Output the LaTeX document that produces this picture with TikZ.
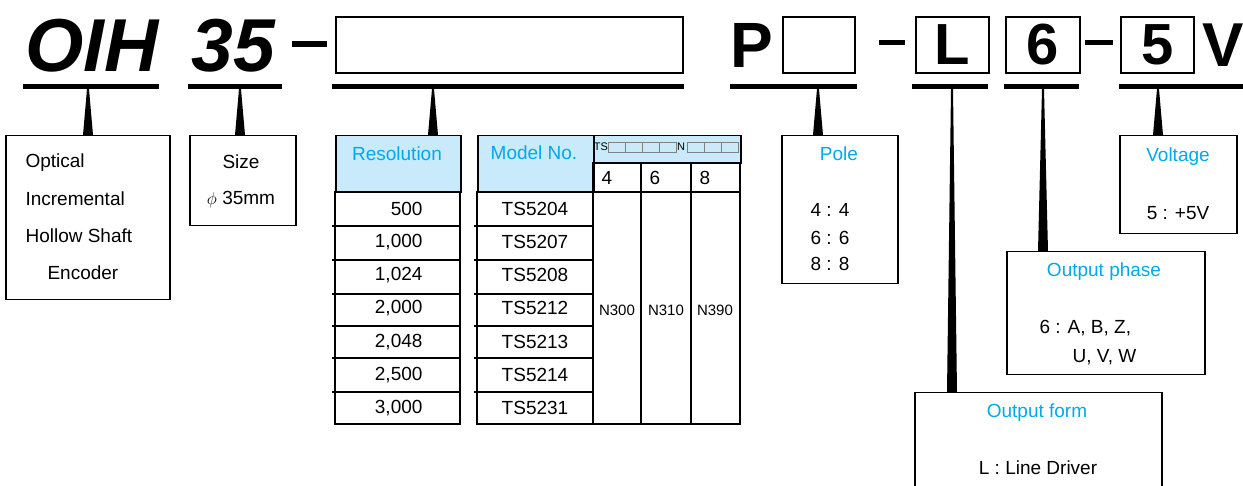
\documentclass[tikz,border=0pt]{standalone}
\usepackage{fontspec}
\setmainfont{Liberation Sans}
\usetikzlibrary{calc}
\definecolor{capblue}{RGB}{0,168,236}
\definecolor{headfill}{RGB}{200,234,250}
\tikzset{
	infobox/.style={draw, line width=1.5pt, inner sep=0pt, anchor=north west},
	codebox/.style={draw, line width=2pt, inner sep=0pt, anchor=north west, minimum height=56pt},
	ubar/.style={line width=5pt},
	capt/.style={text=capblue},
	bigchar/.style={anchor=base, font=\fontsize{58}{60}\selectfont\bfseries},
}
% tapered pointer from a bar down to a box
\newcommand{\tapline}[2]{%
	\fill ($(#1)+(-1,0)$) -- ($(#1)+(1,0)$) -- ($(#1 |- #2.north)+(5,0)$) -- ($(#1 |- #2.north)+(-5,0)$) -- cycle;}

\begin{document}
\begin{tikzpicture}[x=1pt, y=-1pt, font=\fontsize{19}{22}\selectfont]
		\useasboundingbox (0,0) rectangle (1243,486);
		% code line
		\node[anchor=base west, font=\fontsize{75}{80}\selectfont\bfseries\itshape] (oih) at (22,72) {OIH};
		\node[anchor=base west, font=\fontsize{75}{80}\selectfont\bfseries\itshape] (size) at (188,72) {35};
		\draw[line width=6pt] (292,44) -- (327,44);
		\node[codebox, minimum width=347pt] (resbox) at (335,16) {};
		\node[anchor=base west, font=\fontsize{64}{66}\selectfont\bfseries] (pchar) at (727,68) {P};
		\node[codebox, minimum width=72pt] (polebox) at (782,16) {};
		\draw[line width=5pt] (879,43) -- (905,43);
		\node[codebox, minimum width=73pt] (formbox) at (915,16) {};
		\node[bigchar] (lchar) at (formbox.center |- 0,65) {L};
		\node[codebox, minimum width=74pt] (phasebox) at (1005,16) {};
		\node[bigchar] (sixchar) at (phasebox.center |- 0,65) {6};
		\draw[line width=5pt] (1085,43) -- (1113,43);
		\node[codebox, minimum width=73pt] (voltbox) at (1120,16) {};
		\node[bigchar] (fivechar) at (voltbox.center |- 0,65) {5};
		\node[anchor=base west, font=\fontsize{62}{64}\selectfont\bfseries] (vchar) at (1199,67) {V};
		% bars under the code
		\draw[ubar] (23,87) -- (159,87);
		\draw[ubar] (188,87) -- (282,87);
		\draw[ubar] (332,87) -- (684,87);
		\draw[ubar] (730,87) -- (857,87);
		\draw[ubar] (912,87) -- (988,87);
		\draw[ubar] (1004,87) -- (1079,87);
		\draw[ubar] (1119,87) -- (1243,87);
		\coordinate (aOIH) at (88,89);
		\coordinate (aSize) at (240,89);
		\coordinate (aRes) at (433,89);
		\coordinate (aPole) at (818,89);
		\coordinate (aForm) at (952,89);
		\coordinate (aPhase) at (1043,89);
		\coordinate (aVolt) at (1158,89);

		% Optical box
		\node[infobox, minimum width=164pt, minimum height=164pt] (optical) at (5,135) {};
		\node[anchor=west] (opt1) at (22,163) {Optical};
		\node[anchor=west] (opt2) at (22,199) {Incremental};
		\node[anchor=west] (opt3) at (22,236) {Hollow Shaft};
		\node[anchor=west] (opt4) at (44,273) {Encoder};
		% Size box
		\node[infobox, minimum width=106pt, minimum height=90pt] (sizebox) at (189,135) {};
		\node (size1) at (241,162) {Size};
		\node (size2) at (241,200) {$\phi$ 35mm};

		% Resolution table
		\node[infobox, fill=headfill, minimum width=125pt, minimum height=57pt] (reshead) at (335,135) {};
		\node[capt] (restitle) at (397,154) {Resolution};
		\draw[line width=1.5pt] (335,192) rectangle (460,424);
		% Model table
		\node[infobox, fill=headfill, minimum width=116pt, minimum height=57pt] (modhead) at (477,135) {};
		\node[infobox, fill=headfill, minimum width=147pt, minimum height=28pt] (codehead) at (593,135) {};
		\node[capt] (modtitle) at (534,153) {Model No.};
		\draw[line width=1.5pt] (477,192) rectangle (740,424);
		\draw[line width=1.5pt] (593,163) rectangle (740,192);
		\draw[line width=1.2pt] (641,163) -- (641,424);
		\draw[line width=1.2pt] (691,163) -- (691,424);
		\draw[line width=1.2pt] (593,192) -- (593,424);
		\node[font=\fontsize{11}{12}\selectfont] (ts) at (601,147) {TS};
		\node[font=\fontsize{11}{12}\selectfont] (nn) at (681,147) {N};
		\foreach \x in {608,625,642,659}
			\draw[gray, line width=0.8pt] (\x,142) rectangle (\x+17,152);
		\foreach \x in {687,704,721}
			\draw[gray, line width=0.8pt] (\x,142) rectangle (\x+17,152);
		\node[anchor=west] (p4) at (598,178) {4};
		\node[anchor=west] (p6) at (646,178) {6};
		\node[anchor=west] (p8) at (696,178) {8};
		\node[font=\fontsize{15}{16}\selectfont] (n300) at (617,310) {N300};
		\node[font=\fontsize{15}{16}\selectfont] (n310) at (666,310) {N310};
		\node[font=\fontsize{15}{16}\selectfont] (n390) at (715,310) {N390};
		\foreach \res/\model [count=\i from 0] in {500/TS5204,{1,000}/TS5207,{1,024}/TS5208,{2,000}/TS5212,{2,048}/TS5213,{2,500}/TS5214,{3,000}/TS5231}
		{
			\pgfmathsetmacro\yc{209+33.15*\i}
			\node[anchor=east] (res\i) at (426,\yc) {\res};
			\node (mod\i) at (535,\yc) {\model};
		}
		\foreach \y in {226,260,294,326,358,392}
		{
			\draw[line width=1.5pt] (332,\y) -- (460,\y);
			\draw[line width=1.5pt] (474,\y) -- (593,\y);
		}

		% Pole box
		\node[infobox, minimum width=116pt, minimum height=148pt] (pole) at (781,135) {};
		\node[capt] (poletitle) at (839,154) {Pole};
		\node (pole4) at (830,210) {4 : 4};
		\node (pole6) at (830,238) {6 : 6};
		\node (pole8) at (830,264) {8 : 8};
		% Voltage box
		\node[infobox, minimum width=117pt, minimum height=98pt] (volt) at (1119,135) {};
		\node[capt] (volttitle) at (1178,157) {Voltage};
		\node (volt5) at (1178,213) {5 : +5V};
		% Output phase box
		\node[infobox, minimum width=198pt, minimum height=123pt] (phase) at (1006,251) {};
		\node[capt] (phasetitle) at (1104,272) {Output phase};
		\node[anchor=west] (phase1) at (1036,328) {6 : A, B, Z,};
		\node[anchor=west] (phase2) at (1069,357) {U, V, W};
		% Output form box
		\node[infobox, minimum width=247pt, minimum height=110pt] (form) at (914,392) {};
		\node[capt] (formtitle) at (1037,413) {Output form};
		\node (formL) at (1038,468) {L : Line Driver};

		% pointers
		\tapline{aOIH}{optical}
		\tapline{aSize}{sizebox}
		\tapline{aRes}{reshead}
		\tapline{aPole}{pole}
		\tapline{aForm}{form}
		\tapline{aPhase}{phase}
		\tapline{aVolt}{volt}
		\end{tikzpicture}
\end{document}
